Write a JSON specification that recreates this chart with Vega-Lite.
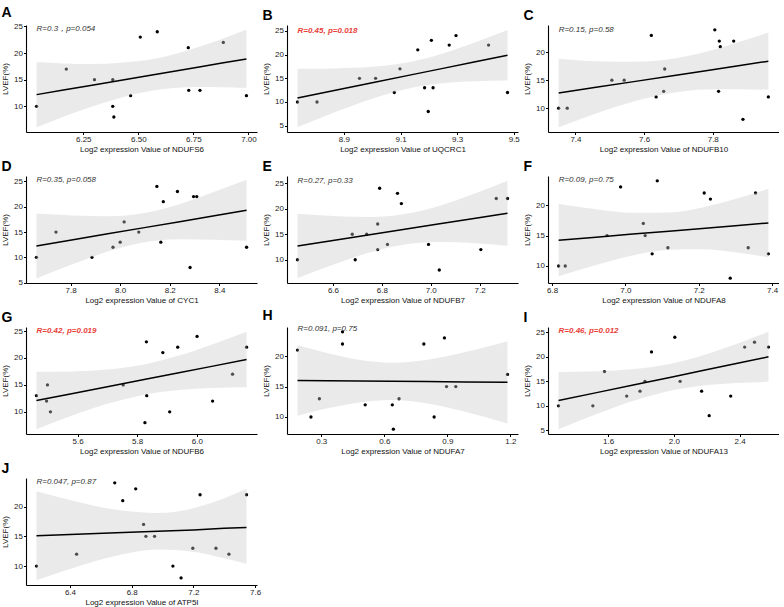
{
  "$schema": "https://vega.github.io/schema/vega-lite/v6.json",
  "background": "white",
  "padding": {"left": 1, "top": 6, "right": 0, "bottom": 0},
  "columns": 3,
  "spacing": {"row": 44, "column": 30},
  "bounds": "flush",
  "datasets": {
    "points": [
      {"panel":"A","expr":6.038,"lvef":10},{"panel":"A","expr":6.173,"lvef":17},{"panel":"A","expr":6.301,"lvef":15},{"panel":"A","expr":6.384,"lvef":15},{"panel":"A","expr":6.384,"lvef":10},{"panel":"A","expr":6.389,"lvef":8},{"panel":"A","expr":6.465,"lvef":12},{"panel":"A","expr":6.509,"lvef":23},{"panel":"A","expr":6.586,"lvef":24},{"panel":"A","expr":6.727,"lvef":21},{"panel":"A","expr":6.729,"lvef":13},{"panel":"A","expr":6.78,"lvef":13},{"panel":"A","expr":6.886,"lvef":22},{"panel":"A","expr":6.991,"lvef":12},
      {"panel":"B","expr":8.736,"lvef":10},{"panel":"B","expr":8.805,"lvef":10},{"panel":"B","expr":8.955,"lvef":15},{"panel":"B","expr":9.012,"lvef":15},{"panel":"B","expr":9.098,"lvef":17},{"panel":"B","expr":9.078,"lvef":12},{"panel":"B","expr":9.161,"lvef":21},{"panel":"B","expr":9.185,"lvef":13},{"panel":"B","expr":9.209,"lvef":23},{"panel":"B","expr":9.215,"lvef":13},{"panel":"B","expr":9.198,"lvef":8},{"panel":"B","expr":9.272,"lvef":22},{"panel":"B","expr":9.296,"lvef":24},{"panel":"B","expr":9.411,"lvef":22},{"panel":"B","expr":9.478,"lvef":12},
      {"panel":"C","expr":7.351,"lvef":10},{"panel":"C","expr":7.376,"lvef":10},{"panel":"C","expr":7.506,"lvef":15},{"panel":"C","expr":7.542,"lvef":15},{"panel":"C","expr":7.621,"lvef":23},{"panel":"C","expr":7.635,"lvef":12},{"panel":"C","expr":7.657,"lvef":13},{"panel":"C","expr":7.66,"lvef":17},{"panel":"C","expr":7.806,"lvef":24},{"panel":"C","expr":7.819,"lvef":22},{"panel":"C","expr":7.822,"lvef":21},{"panel":"C","expr":7.817,"lvef":13},{"panel":"C","expr":7.861,"lvef":22},{"panel":"C","expr":7.888,"lvef":8},{"panel":"C","expr":7.962,"lvef":12},
      {"panel":"D","expr":7.662,"lvef":10},{"panel":"D","expr":7.741,"lvef":15},{"panel":"D","expr":7.886,"lvef":10},{"panel":"D","expr":7.971,"lvef":12},{"panel":"D","expr":8.0,"lvef":13},{"panel":"D","expr":8.016,"lvef":17},{"panel":"D","expr":8.075,"lvef":15},{"panel":"D","expr":8.148,"lvef":24},{"panel":"D","expr":8.164,"lvef":13},{"panel":"D","expr":8.174,"lvef":21},{"panel":"D","expr":8.231,"lvef":23},{"panel":"D","expr":8.282,"lvef":8},{"panel":"D","expr":8.296,"lvef":22},{"panel":"D","expr":8.309,"lvef":22},{"panel":"D","expr":8.51,"lvef":12},
      {"panel":"E","expr":6.455,"lvef":10},{"panel":"E","expr":6.679,"lvef":15},{"panel":"E","expr":6.738,"lvef":15},{"panel":"E","expr":6.691,"lvef":10},{"panel":"E","expr":6.783,"lvef":17},{"panel":"E","expr":6.783,"lvef":12},{"panel":"E","expr":6.791,"lvef":24},{"panel":"E","expr":6.823,"lvef":13},{"panel":"E","expr":6.864,"lvef":23},{"panel":"E","expr":6.88,"lvef":21},{"panel":"E","expr":6.991,"lvef":13},{"panel":"E","expr":7.035,"lvef":8},{"panel":"E","expr":7.205,"lvef":12},{"panel":"E","expr":7.268,"lvef":22},{"panel":"E","expr":7.314,"lvef":22},
      {"panel":"F","expr":6.818,"lvef":10},{"panel":"F","expr":6.836,"lvef":10},{"panel":"F","expr":6.95,"lvef":15},{"panel":"F","expr":6.987,"lvef":23},{"panel":"F","expr":7.049,"lvef":17},{"panel":"F","expr":7.054,"lvef":15},{"panel":"F","expr":7.073,"lvef":12},{"panel":"F","expr":7.087,"lvef":24},{"panel":"F","expr":7.116,"lvef":13},{"panel":"F","expr":7.215,"lvef":22},{"panel":"F","expr":7.232,"lvef":21},{"panel":"F","expr":7.286,"lvef":8},{"panel":"F","expr":7.335,"lvef":13},{"panel":"F","expr":7.355,"lvef":22},{"panel":"F","expr":7.39,"lvef":12},
      {"panel":"G","expr":5.462,"lvef":13},{"panel":"G","expr":5.496,"lvef":12},{"panel":"G","expr":5.499,"lvef":15},{"panel":"G","expr":5.509,"lvef":10},{"panel":"G","expr":5.753,"lvef":15},{"panel":"G","expr":5.831,"lvef":23},{"panel":"G","expr":5.832,"lvef":13},{"panel":"G","expr":5.826,"lvef":8},{"panel":"G","expr":5.886,"lvef":21},{"panel":"G","expr":5.909,"lvef":10},{"panel":"G","expr":5.936,"lvef":22},{"panel":"G","expr":6.001,"lvef":24},{"panel":"G","expr":6.053,"lvef":12},{"panel":"G","expr":6.12,"lvef":17},{"panel":"G","expr":6.167,"lvef":22},
      {"panel":"H","expr":0.187,"lvef":21},{"panel":"H","expr":0.251,"lvef":10},{"panel":"H","expr":0.291,"lvef":13},{"panel":"H","expr":0.401,"lvef":24},{"panel":"H","expr":0.401,"lvef":22},{"panel":"H","expr":0.509,"lvef":12},{"panel":"H","expr":0.638,"lvef":12},{"panel":"H","expr":0.643,"lvef":8},{"panel":"H","expr":0.67,"lvef":13},{"panel":"H","expr":0.788,"lvef":22},{"panel":"H","expr":0.837,"lvef":10},{"panel":"H","expr":0.886,"lvef":23},{"panel":"H","expr":0.896,"lvef":15},{"panel":"H","expr":0.94,"lvef":15},{"panel":"H","expr":1.186,"lvef":17},
      {"panel":"I","expr":1.298,"lvef":10},{"panel":"I","expr":1.507,"lvef":10},{"panel":"I","expr":1.578,"lvef":17},{"panel":"I","expr":1.713,"lvef":12},{"panel":"I","expr":1.794,"lvef":13},{"panel":"I","expr":1.824,"lvef":15},{"panel":"I","expr":1.864,"lvef":21},{"panel":"I","expr":2.006,"lvef":24},{"panel":"I","expr":2.038,"lvef":15},{"panel":"I","expr":2.169,"lvef":13},{"panel":"I","expr":2.215,"lvef":8},{"panel":"I","expr":2.346,"lvef":12},{"panel":"I","expr":2.431,"lvef":22},{"panel":"I","expr":2.491,"lvef":23},{"panel":"I","expr":2.576,"lvef":22},
      {"panel":"J","expr":6.183,"lvef":10},{"panel":"J","expr":6.443,"lvef":12},{"panel":"J","expr":6.69,"lvef":24},{"panel":"J","expr":6.742,"lvef":21},{"panel":"J","expr":6.826,"lvef":23},{"panel":"J","expr":6.877,"lvef":17},{"panel":"J","expr":6.892,"lvef":15},{"panel":"J","expr":6.948,"lvef":15},{"panel":"J","expr":7.067,"lvef":10},{"panel":"J","expr":7.12,"lvef":8},{"panel":"J","expr":7.196,"lvef":13},{"panel":"J","expr":7.243,"lvef":22},{"panel":"J","expr":7.346,"lvef":13},{"panel":"J","expr":7.43,"lvef":12},{"panel":"J","expr":7.544,"lvef":22}
    ],
    "bands": [
      {"panel":"A","expr":6.038,"lo":6.1,"fit":12.2,"hi":18.3},{"panel":"A","expr":6.16,"lo":8.06,"fit":13.06,"hi":18.06},{"panel":"A","expr":6.29,"lo":9.98,"fit":13.97,"hi":17.96},{"panel":"A","expr":6.549,"lo":12.85,"fit":15.79,"hi":18.74},{"panel":"A","expr":6.77,"lo":13.61,"fit":17.35,"hi":21.09},{"panel":"A","expr":6.88,"lo":13.59,"fit":18.12,"hi":22.65},{"panel":"A","expr":6.991,"lo":13.45,"fit":18.9,"hi":24.35},
      {"panel":"B","expr":8.736,"lo":4.7,"fit":10.85,"hi":17.0},{"panel":"B","expr":8.87,"lo":7.88,"fit":12.48,"hi":17.08},{"panel":"B","expr":9.0,"lo":10.69,"fit":14.05,"hi":17.41},{"panel":"B","expr":9.141,"lo":13.01,"fit":15.77,"hi":18.53},{"panel":"B","expr":9.25,"lo":13.96,"fit":17.09,"hi":20.22},{"panel":"B","expr":9.36,"lo":14.37,"fit":18.43,"hi":22.49},{"panel":"B","expr":9.478,"lo":14.51,"fit":19.86,"hi":25.21},
      {"panel":"C","expr":7.351,"lo":6.6,"fit":12.7,"hi":18.85},{"panel":"C","expr":7.46,"lo":9.05,"fit":13.72,"hi":18.39},{"panel":"C","expr":7.57,"lo":11.18,"fit":14.74,"hi":18.3},{"panel":"C","expr":7.688,"lo":12.79,"fit":15.84,"hi":18.89},{"panel":"C","expr":7.78,"lo":13.33,"fit":16.7,"hi":20.07},{"panel":"C","expr":7.87,"lo":13.39,"fit":17.54,"hi":21.69},{"panel":"C","expr":7.962,"lo":13.28,"fit":18.4,"hi":23.52},
      {"panel":"D","expr":7.662,"lo":5.85,"fit":12.25,"hi":18.65},{"panel":"D","expr":7.81,"lo":8.69,"fit":13.48,"hi":18.27},{"panel":"D","expr":7.95,"lo":11.15,"fit":14.64,"hi":18.13},{"panel":"D","expr":8.098,"lo":12.98,"fit":15.87,"hi":18.76},{"panel":"D","expr":8.24,"lo":13.6,"fit":17.05,"hi":20.5},{"panel":"D","expr":8.38,"lo":13.49,"fit":18.22,"hi":22.95},{"panel":"D","expr":8.51,"lo":13.3,"fit":19.3,"hi":25.3},
      {"panel":"E","expr":6.455,"lo":6.4,"fit":12.7,"hi":19.0},{"panel":"E","expr":6.6,"lo":9.01,"fit":13.78,"hi":18.55},{"panel":"E","expr":6.75,"lo":11.44,"fit":14.9,"hi":18.36},{"panel":"E","expr":6.887,"lo":12.95,"fit":15.92,"hi":18.89},{"panel":"E","expr":7.03,"lo":13.48,"fit":16.98,"hi":20.48},{"panel":"E","expr":7.17,"lo":13.3,"fit":18.03,"hi":22.76},{"panel":"E","expr":7.314,"lo":12.75,"fit":19.1,"hi":25.45},
      {"panel":"F","expr":6.818,"lo":8.3,"fit":14.24,"hi":20.2},{"panel":"F","expr":6.92,"lo":10.15,"fit":14.74,"hi":19.33},{"panel":"F","expr":7.02,"lo":11.73,"fit":15.24,"hi":18.75},{"panel":"F","expr":7.119,"lo":12.66,"fit":15.73,"hi":18.8},{"panel":"F","expr":7.21,"lo":12.74,"fit":16.18,"hi":19.62},{"panel":"F","expr":7.3,"lo":12.26,"fit":16.63,"hi":21.0},{"panel":"F","expr":7.39,"lo":11.44,"fit":17.07,"hi":22.7},
      {"panel":"G","expr":5.462,"lo":6.76,"fit":12.1,"hi":17.44},{"panel":"G","expr":5.58,"lo":9.26,"fit":13.37,"hi":17.48},{"panel":"G","expr":5.7,"lo":11.49,"fit":14.67,"hi":17.85},{"panel":"G","expr":5.819,"lo":13.15,"fit":15.95,"hi":18.75},{"panel":"G","expr":5.94,"lo":14.06,"fit":17.25,"hi":20.44},{"panel":"G","expr":6.05,"lo":14.41,"fit":18.44,"hi":22.47},{"panel":"G","expr":6.167,"lo":14.55,"fit":19.7,"hi":24.85},
      {"panel":"H","expr":0.187,"lo":10.22,"fit":16.0,"hi":21.78},{"panel":"H","expr":0.33,"lo":11.42,"fit":15.96,"hi":20.5},{"panel":"H","expr":0.48,"lo":12.4,"fit":15.91,"hi":19.42},{"panel":"H","expr":0.635,"lo":12.79,"fit":15.87,"hi":18.94},{"panel":"H","expr":0.8,"lo":12.26,"fit":15.82,"hi":19.38},{"panel":"H","expr":0.98,"lo":10.89,"fit":15.76,"hi":20.63},{"panel":"H","expr":1.186,"lo":8.94,"fit":15.7,"hi":22.46},
      {"panel":"I","expr":1.298,"lo":5.25,"fit":11.08,"hi":16.9},{"panel":"I","expr":1.53,"lo":8.34,"fit":12.7,"hi":17.06},{"panel":"I","expr":1.76,"lo":11.08,"fit":14.3,"hi":17.52},{"panel":"I","expr":1.99,"lo":13.17,"fit":15.91,"hi":18.65},{"panel":"I","expr":2.19,"lo":14.2,"fit":17.31,"hi":20.42},{"panel":"I","expr":2.38,"lo":14.66,"fit":18.63,"hi":22.6},{"panel":"I","expr":2.576,"lo":14.9,"fit":20.0,"hi":25.1},
      {"panel":"J","expr":6.183,"lo":7.63,"fit":15.1,"hi":22.57},{"panel":"J","expr":6.4,"lo":9.49,"fit":15.31,"hi":21.13},{"panel":"J","expr":6.7,"lo":11.72,"fit":15.59,"hi":19.46},{"panel":"J","expr":6.97,"lo":12.77,"fit":15.85,"hi":18.93},{"panel":"J","expr":7.2,"lo":12.4,"fit":16.07,"hi":19.74},{"panel":"J","expr":7.4,"lo":11.3,"fit":16.36,"hi":21.4},{"panel":"J","expr":7.544,"lo":10.4,"fit":16.5,"hi":23.0}
    ],
    "stats": [
      {"panel":"A","label":"R=0.3，p=0.054"},
      {"panel":"B","label":"R=0.45, p=0.018"},
      {"panel":"C","label":"R=0.15, p=0.58"},
      {"panel":"D","label":"R=0.35, p=0.058"},
      {"panel":"E","label":"R=0.27, p=0.33"},
      {"panel":"F","label":"R=0.09, p=0.75"},
      {"panel":"G","label":"R=0.42, p=0.019"},
      {"panel":"H","label":"R=0.091, p=0.75"},
      {"panel":"I","label":"R=0.46, p=0.012"},
      {"panel":"J","label":"R=0.047, p=0.87"}
    ]
  },
  "concat": [
    {
      "title": "A", "width": 231, "height": 107,
      "layer": [
        {"data": {"name": "points"}, "transform": [{"filter": "datum.panel == 'A'"}], "mark": {"type": "circle", "size": 11, "color": "black", "opacity": 1}, "encoding": {"x": {"field": "expr", "type": "quantitative", "scale": {"domain": [5.99, 7.039], "nice": false, "zero": false}, "axis": {"values": [6.25, 6.5, 6.75, 7.0], "tickCount": 10, "format": ".2f"}, "title": "Log2 expression Value of NDUFS6"}, "y": {"field": "lvef", "type": "quantitative", "scale": {"domain": [5.19, 25.26], "nice": false, "zero": false}, "axis": {"values": [10, 15, 20, 25], "tickCount": 10, "labelOverlap": false}, "title": "LVEF(%)"}}},
        {"data": {"name": "bands"}, "transform": [{"filter": "datum.panel == 'A'"}], "mark": {"type": "area", "color": "#c8c8c8", "opacity": 0.38, "interpolate": "monotone"}, "encoding": {"x": {"field": "expr", "type": "quantitative"}, "y": {"field": "lo", "type": "quantitative"}, "y2": {"field": "hi"}}},
        {"data": {"name": "bands"}, "transform": [{"filter": "datum.panel == 'A'"}], "mark": {"type": "line", "color": "black", "strokeWidth": 1.5}, "encoding": {"x": {"field": "expr", "type": "quantitative"}, "y": {"field": "fit", "type": "quantitative"}}},
        {"data": {"name": "stats"}, "transform": [{"filter": "datum.panel == 'A'"}], "mark": {"type": "text", "align": "left", "baseline": "middle", "fontStyle": "italic", "fontSize": 8, "color": "#333333"}, "encoding": {"x": {"datum": 6.038, "type": "quantitative"}, "y": {"datum": 24.5, "type": "quantitative"}, "text": {"field": "label", "type": "nominal"}}}
      ]
    },
    {
      "title": "B", "width": 231, "height": 107,
      "layer": [
        {"data": {"name": "points"}, "transform": [{"filter": "datum.panel == 'B'"}], "mark": {"type": "circle", "size": 11, "color": "black", "opacity": 1}, "encoding": {"x": {"field": "expr", "type": "quantitative", "scale": {"domain": [8.699, 9.515], "nice": false, "zero": false}, "axis": {"values": [8.9, 9.1, 9.3, 9.5], "tickCount": 10, "format": ".1f"}, "title": "Log2 expression Value of UQCRC1"}, "y": {"field": "lvef", "type": "quantitative", "scale": {"domain": [3.67, 26.24], "nice": false, "zero": false}, "axis": {"values": [5, 10, 15, 20, 25], "tickCount": 10, "labelOverlap": false}, "title": "LVEF(%)"}}},
        {"data": {"name": "bands"}, "transform": [{"filter": "datum.panel == 'B'"}], "mark": {"type": "area", "color": "#c8c8c8", "opacity": 0.38, "interpolate": "monotone"}, "encoding": {"x": {"field": "expr", "type": "quantitative"}, "y": {"field": "lo", "type": "quantitative"}, "y2": {"field": "hi"}}},
        {"data": {"name": "bands"}, "transform": [{"filter": "datum.panel == 'B'"}], "mark": {"type": "line", "color": "black", "strokeWidth": 1.5}, "encoding": {"x": {"field": "expr", "type": "quantitative"}, "y": {"field": "fit", "type": "quantitative"}}},
        {"data": {"name": "stats"}, "transform": [{"filter": "datum.panel == 'B'"}], "mark": {"type": "text", "align": "left", "baseline": "middle", "fontStyle": "italic", "fontWeight": "bold", "fontSize": 8, "color": "#e8413a"}, "encoding": {"x": {"datum": 8.736, "type": "quantitative"}, "y": {"datum": 25.0, "type": "quantitative"}, "text": {"field": "label", "type": "nominal"}}}
      ]
    },
    {
      "title": "C", "width": 231, "height": 107,
      "layer": [
        {"data": {"name": "points"}, "transform": [{"filter": "datum.panel == 'C'"}], "mark": {"type": "circle", "size": 11, "color": "black", "opacity": 1}, "encoding": {"x": {"field": "expr", "type": "quantitative", "scale": {"domain": [7.32, 7.993], "nice": false, "zero": false}, "axis": {"values": [7.4, 7.6, 7.8], "tickCount": 10, "format": ".1f"}, "title": "Log2 expression Value of NDUFB10"}, "y": {"field": "lvef", "type": "quantitative", "scale": {"domain": [5.73, 24.87], "nice": false, "zero": false}, "axis": {"values": [10, 15, 20], "tickCount": 10, "labelOverlap": false}, "title": "LVEF(%)"}}},
        {"data": {"name": "bands"}, "transform": [{"filter": "datum.panel == 'C'"}], "mark": {"type": "area", "color": "#c8c8c8", "opacity": 0.38, "interpolate": "monotone"}, "encoding": {"x": {"field": "expr", "type": "quantitative"}, "y": {"field": "lo", "type": "quantitative"}, "y2": {"field": "hi"}}},
        {"data": {"name": "bands"}, "transform": [{"filter": "datum.panel == 'C'"}], "mark": {"type": "line", "color": "black", "strokeWidth": 1.5}, "encoding": {"x": {"field": "expr", "type": "quantitative"}, "y": {"field": "fit", "type": "quantitative"}}},
        {"data": {"name": "stats"}, "transform": [{"filter": "datum.panel == 'C'"}], "mark": {"type": "text", "align": "left", "baseline": "middle", "fontStyle": "italic", "fontSize": 8, "color": "#333333"}, "encoding": {"x": {"datum": 7.351, "type": "quantitative"}, "y": {"datum": 24.0, "type": "quantitative"}, "text": {"field": "label", "type": "nominal"}}}
      ]
    },
    {
      "title": "D", "width": 231, "height": 107,
      "layer": [
        {"data": {"name": "points"}, "transform": [{"filter": "datum.panel == 'D'"}], "mark": {"type": "circle", "size": 11, "color": "black", "opacity": 1}, "encoding": {"x": {"field": "expr", "type": "quantitative", "scale": {"domain": [7.62, 8.552], "nice": false, "zero": false}, "axis": {"values": [7.8, 8.0, 8.2, 8.4], "tickCount": 10, "format": ".1f"}, "title": "Log2 expression Value of CYC1"}, "y": {"field": "lvef", "type": "quantitative", "scale": {"domain": [4.94, 26.06], "nice": false, "zero": false}, "axis": {"values": [5, 10, 15, 20, 25], "tickCount": 10, "labelOverlap": false}, "title": "LVEF(%)"}}},
        {"data": {"name": "bands"}, "transform": [{"filter": "datum.panel == 'D'"}], "mark": {"type": "area", "color": "#c8c8c8", "opacity": 0.38, "interpolate": "monotone"}, "encoding": {"x": {"field": "expr", "type": "quantitative"}, "y": {"field": "lo", "type": "quantitative"}, "y2": {"field": "hi"}}},
        {"data": {"name": "bands"}, "transform": [{"filter": "datum.panel == 'D'"}], "mark": {"type": "line", "color": "black", "strokeWidth": 1.5}, "encoding": {"x": {"field": "expr", "type": "quantitative"}, "y": {"field": "fit", "type": "quantitative"}}},
        {"data": {"name": "stats"}, "transform": [{"filter": "datum.panel == 'D'"}], "mark": {"type": "text", "align": "left", "baseline": "middle", "fontStyle": "italic", "fontSize": 8, "color": "#333333"}, "encoding": {"x": {"datum": 7.662, "type": "quantitative"}, "y": {"datum": 25.3, "type": "quantitative"}, "text": {"field": "label", "type": "nominal"}}}
      ]
    },
    {
      "title": "E", "width": 231, "height": 107,
      "layer": [
        {"data": {"name": "points"}, "transform": [{"filter": "datum.panel == 'E'"}], "mark": {"type": "circle", "size": 11, "color": "black", "opacity": 1}, "encoding": {"x": {"field": "expr", "type": "quantitative", "scale": {"domain": [6.412, 7.357], "nice": false, "zero": false}, "axis": {"values": [6.6, 6.8, 7.0, 7.2], "tickCount": 10, "format": ".1f"}, "title": "Log2 expression Value of NDUFB7"}, "y": {"field": "lvef", "type": "quantitative", "scale": {"domain": [5.45, 26.4], "nice": false, "zero": false}, "axis": {"values": [10, 15, 20, 25], "tickCount": 10, "labelOverlap": false}, "title": "LVEF(%)"}}},
        {"data": {"name": "bands"}, "transform": [{"filter": "datum.panel == 'E'"}], "mark": {"type": "area", "color": "#c8c8c8", "opacity": 0.38, "interpolate": "monotone"}, "encoding": {"x": {"field": "expr", "type": "quantitative"}, "y": {"field": "lo", "type": "quantitative"}, "y2": {"field": "hi"}}},
        {"data": {"name": "bands"}, "transform": [{"filter": "datum.panel == 'E'"}], "mark": {"type": "line", "color": "black", "strokeWidth": 1.5}, "encoding": {"x": {"field": "expr", "type": "quantitative"}, "y": {"field": "fit", "type": "quantitative"}}},
        {"data": {"name": "stats"}, "transform": [{"filter": "datum.panel == 'E'"}], "mark": {"type": "text", "align": "left", "baseline": "middle", "fontStyle": "italic", "fontSize": 8, "color": "#333333"}, "encoding": {"x": {"datum": 6.455, "type": "quantitative"}, "y": {"datum": 25.5, "type": "quantitative"}, "text": {"field": "label", "type": "nominal"}}}
      ]
    },
    {
      "title": "F", "width": 231, "height": 107,
      "layer": [
        {"data": {"name": "points"}, "transform": [{"filter": "datum.panel == 'F'"}], "mark": {"type": "circle", "size": 11, "color": "black", "opacity": 1}, "encoding": {"x": {"field": "expr", "type": "quantitative", "scale": {"domain": [6.789, 7.419], "nice": false, "zero": false}, "axis": {"values": [6.8, 7.0, 7.2, 7.4], "tickCount": 10, "format": ".1f"}, "title": "Log2 expression Value of NDUFA8"}, "y": {"field": "lvef", "type": "quantitative", "scale": {"domain": [7.2, 24.8], "nice": false, "zero": false}, "axis": {"values": [10, 15, 20], "tickCount": 10, "labelOverlap": false}, "title": "LVEF(%)"}}},
        {"data": {"name": "bands"}, "transform": [{"filter": "datum.panel == 'F'"}], "mark": {"type": "area", "color": "#c8c8c8", "opacity": 0.38, "interpolate": "monotone"}, "encoding": {"x": {"field": "expr", "type": "quantitative"}, "y": {"field": "lo", "type": "quantitative"}, "y2": {"field": "hi"}}},
        {"data": {"name": "bands"}, "transform": [{"filter": "datum.panel == 'F'"}], "mark": {"type": "line", "color": "black", "strokeWidth": 1.5}, "encoding": {"x": {"field": "expr", "type": "quantitative"}, "y": {"field": "fit", "type": "quantitative"}}},
        {"data": {"name": "stats"}, "transform": [{"filter": "datum.panel == 'F'"}], "mark": {"type": "text", "align": "left", "baseline": "middle", "fontStyle": "italic", "fontSize": 8, "color": "#333333"}, "encoding": {"x": {"datum": 6.818, "type": "quantitative"}, "y": {"datum": 24.1, "type": "quantitative"}, "text": {"field": "label", "type": "nominal"}}}
      ]
    },
    {
      "title": "G", "width": 231, "height": 107,
      "layer": [
        {"data": {"name": "points"}, "transform": [{"filter": "datum.panel == 'G'"}], "mark": {"type": "circle", "size": 11, "color": "black", "opacity": 1}, "encoding": {"x": {"field": "expr", "type": "quantitative", "scale": {"domain": [5.427, 6.202], "nice": false, "zero": false}, "axis": {"values": [5.6, 5.8, 6.0], "tickCount": 10, "format": ".1f"}, "title": "Log2 expression Value of NDUFB6"}, "y": {"field": "lvef", "type": "quantitative", "scale": {"domain": [5.89, 25.75], "nice": false, "zero": false}, "axis": {"values": [10, 15, 20, 25], "tickCount": 10, "labelOverlap": false}, "title": "LVEF(%)"}}},
        {"data": {"name": "bands"}, "transform": [{"filter": "datum.panel == 'G'"}], "mark": {"type": "area", "color": "#c8c8c8", "opacity": 0.38, "interpolate": "monotone"}, "encoding": {"x": {"field": "expr", "type": "quantitative"}, "y": {"field": "lo", "type": "quantitative"}, "y2": {"field": "hi"}}},
        {"data": {"name": "bands"}, "transform": [{"filter": "datum.panel == 'G'"}], "mark": {"type": "line", "color": "black", "strokeWidth": 1.5}, "encoding": {"x": {"field": "expr", "type": "quantitative"}, "y": {"field": "fit", "type": "quantitative"}}},
        {"data": {"name": "stats"}, "transform": [{"filter": "datum.panel == 'G'"}], "mark": {"type": "text", "align": "left", "baseline": "middle", "fontStyle": "italic", "fontWeight": "bold", "fontSize": 8, "color": "#e8413a"}, "encoding": {"x": {"datum": 5.462, "type": "quantitative"}, "y": {"datum": 25.0, "type": "quantitative"}, "text": {"field": "label", "type": "nominal"}}}
      ]
    },
    {
      "title": "H", "width": 231, "height": 107,
      "layer": [
        {"data": {"name": "points"}, "transform": [{"filter": "datum.panel == 'H'"}], "mark": {"type": "circle", "size": 11, "color": "black", "opacity": 1}, "encoding": {"x": {"field": "expr", "type": "quantitative", "scale": {"domain": [0.137, 1.236], "nice": false, "zero": false}, "axis": {"values": [0.3, 0.6, 0.9, 1.2], "tickCount": 10, "format": ".1f"}, "title": "Log2 expression Value of NDUFA7"}, "y": {"field": "lvef", "type": "quantitative", "scale": {"domain": [7.2, 24.8], "nice": false, "zero": false}, "axis": {"values": [10, 15, 20], "tickCount": 10, "labelOverlap": false}, "title": "LVEF(%)"}}},
        {"data": {"name": "bands"}, "transform": [{"filter": "datum.panel == 'H'"}], "mark": {"type": "area", "color": "#c8c8c8", "opacity": 0.38, "interpolate": "monotone"}, "encoding": {"x": {"field": "expr", "type": "quantitative"}, "y": {"field": "lo", "type": "quantitative"}, "y2": {"field": "hi"}}},
        {"data": {"name": "bands"}, "transform": [{"filter": "datum.panel == 'H'"}], "mark": {"type": "line", "color": "black", "strokeWidth": 1.5}, "encoding": {"x": {"field": "expr", "type": "quantitative"}, "y": {"field": "fit", "type": "quantitative"}}},
        {"data": {"name": "stats"}, "transform": [{"filter": "datum.panel == 'H'"}], "mark": {"type": "text", "align": "left", "baseline": "middle", "fontStyle": "italic", "fontSize": 8, "color": "#333333"}, "encoding": {"x": {"datum": 0.187, "type": "quantitative"}, "y": {"datum": 24.5, "type": "quantitative"}, "text": {"field": "label", "type": "nominal"}}}
      ]
    },
    {
      "title": "I", "width": 231, "height": 107,
      "layer": [
        {"data": {"name": "points"}, "transform": [{"filter": "datum.panel == 'I'"}], "mark": {"type": "circle", "size": 11, "color": "black", "opacity": 1}, "encoding": {"x": {"field": "expr", "type": "quantitative", "scale": {"domain": [1.234, 2.64], "nice": false, "zero": false}, "axis": {"values": [1.6, 2.0, 2.4], "tickCount": 10, "format": ".1f"}, "title": "Log2 expression Value of NDUFA13"}, "y": {"field": "lvef", "type": "quantitative", "scale": {"domain": [4.26, 26.09], "nice": false, "zero": false}, "axis": {"values": [5, 10, 15, 20, 25], "tickCount": 10, "labelOverlap": false}, "title": "LVEF(%)"}}},
        {"data": {"name": "bands"}, "transform": [{"filter": "datum.panel == 'I'"}], "mark": {"type": "area", "color": "#c8c8c8", "opacity": 0.38, "interpolate": "monotone"}, "encoding": {"x": {"field": "expr", "type": "quantitative"}, "y": {"field": "lo", "type": "quantitative"}, "y2": {"field": "hi"}}},
        {"data": {"name": "bands"}, "transform": [{"filter": "datum.panel == 'I'"}], "mark": {"type": "line", "color": "black", "strokeWidth": 1.5}, "encoding": {"x": {"field": "expr", "type": "quantitative"}, "y": {"field": "fit", "type": "quantitative"}}},
        {"data": {"name": "stats"}, "transform": [{"filter": "datum.panel == 'I'"}], "mark": {"type": "text", "align": "left", "baseline": "middle", "fontStyle": "italic", "fontWeight": "bold", "fontSize": 8, "color": "#e8413a"}, "encoding": {"x": {"datum": 1.298, "type": "quantitative"}, "y": {"datum": 25.2, "type": "quantitative"}, "text": {"field": "label", "type": "nominal"}}}
      ]
    },
    {
      "title": "J", "width": 231, "height": 107,
      "layer": [
        {"data": {"name": "points"}, "transform": [{"filter": "datum.panel == 'J'"}], "mark": {"type": "circle", "size": 11, "color": "black", "opacity": 1}, "encoding": {"x": {"field": "expr", "type": "quantitative", "scale": {"domain": [6.115, 7.612], "nice": false, "zero": false}, "axis": {"values": [6.4, 6.8, 7.2, 7.6], "tickCount": 10, "format": ".1f"}, "title": "Log2 expression Value of ATP5I"}, "y": {"field": "lvef", "type": "quantitative", "scale": {"domain": [6.81, 24.82], "nice": false, "zero": false}, "axis": {"values": [10, 15, 20], "tickCount": 10, "labelOverlap": false}, "title": "LVEF(%)"}}},
        {"data": {"name": "bands"}, "transform": [{"filter": "datum.panel == 'J'"}], "mark": {"type": "area", "color": "#c8c8c8", "opacity": 0.38, "interpolate": "monotone"}, "encoding": {"x": {"field": "expr", "type": "quantitative"}, "y": {"field": "lo", "type": "quantitative"}, "y2": {"field": "hi"}}},
        {"data": {"name": "bands"}, "transform": [{"filter": "datum.panel == 'J'"}], "mark": {"type": "line", "color": "black", "strokeWidth": 1.5}, "encoding": {"x": {"field": "expr", "type": "quantitative"}, "y": {"field": "fit", "type": "quantitative"}}},
        {"data": {"name": "stats"}, "transform": [{"filter": "datum.panel == 'J'"}], "mark": {"type": "text", "align": "left", "baseline": "middle", "fontStyle": "italic", "fontSize": 8, "color": "#333333"}, "encoding": {"x": {"datum": 6.183, "type": "quantitative"}, "y": {"datum": 24.2, "type": "quantitative"}, "text": {"field": "label", "type": "nominal"}}}
      ]
    }
  ],
  "config": {
    "font": "Liberation Sans",
    "view": {"stroke": null},
    "title": {"anchor": "start", "frame": "bounds", "fontSize": 14, "fontWeight": "bold", "font": "Liberation Sans", "color": "#000000", "offset": 2},
    "axis": {"grid": false, "domainColor": "#000000", "domainWidth": 1.1, "tickColor": "#000000", "tickSize": 2.5, "tickWidth": 1, "labelFont": "Liberation Sans", "labelFontSize": 8, "labelColor": "#222222", "labelPadding": 1, "labelOverlap": false, "labelFlush": false, "titleFont": "Liberation Sans", "titleFontSize": 8, "titleFontWeight": "normal", "titleColor": "#111111"},
    "axisX": {"titlePadding": 2},
    "axisY": {"titlePadding": 4}
  }
}
